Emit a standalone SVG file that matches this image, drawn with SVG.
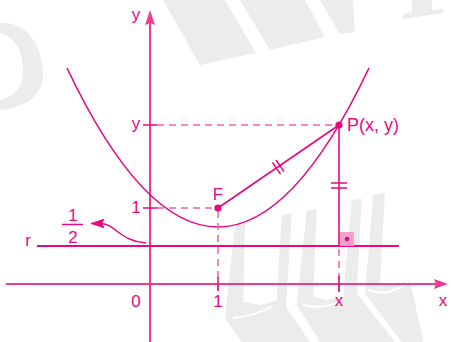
<svg xmlns="http://www.w3.org/2000/svg" width="451" height="342" viewBox="0 0 451 342">
<style>
.wm{fill:#ececec;stroke:none}
.wmw{fill:none;stroke:#ffffff;stroke-width:2}
.axis{stroke:#ee3b95;stroke-width:2;fill:none}
.ln{stroke:#e6097f;stroke-width:1.6;fill:none}
.dash{stroke:#f061aa;stroke-width:1.5;fill:none;stroke-dasharray:7 5}
.tk{stroke:#e6097f;stroke-width:1.5}
.fill{fill:#e6097f}
text{font-family:"Liberation Sans",Arial,sans-serif;font-size:17px;fill:#e6097f}
.mid{text-anchor:middle}
</style>
<defs>
<marker id="ah" viewBox="0 0 14 10" refX="13.5" refY="5" markerWidth="14" markerHeight="10" markerUnits="userSpaceOnUse" orient="auto">
<path d="M0,0 L14,5 L0,10 L2,5 Z" fill="#e6097f"/>
</marker>
</defs>
<g id="watermark">
<path class="wm" d="M0,23 C25,22 40,40 43,70 C45,95 25,108 0,110 L0,100 C16,96 24,85 23,68 C22,50 14,36 0,33 Z"/>
<polygon class="wm" points="163,0 225,0 256,53 200,65"/>
<polygon class="wm" points="240,0 305,0 325,37 270,50"/>
<polygon class="wm" points="320,0 353,0 355,32 340,34"/>
<polygon class="wm" points="412,0 432,0 432,10 443,9 443,13 403,19 403,14 412,12"/>
<polygon class="wm" points="235,225 245,223.3 243.3,301.7 260,305 276.7,300 281.7,215 291.7,213.3 286,306.7 310,342 241.7,342 225,318.3"/>
<polygon class="wm" points="306.7,210.7 316.7,209.3 313.3,296.7 326.7,300 343.3,296.7 351.7,200 361.7,198.7 356.7,293.3 395,342 320,342 296.7,305"/>
<polygon class="wm" points="373.3,194.7 385,192.7 380,283.3 396.7,285 410,280 423.3,342 401.7,342 365,293.3"/>
<path class="wmw" d="M233,318 Q255,316 273,306"/>
<path class="wmw" d="M303,305 Q325,310 343,300"/>
<path class="wmw" d="M368,290 Q392,298 410,280"/>
</g>
<g id="connectors">
<line class="axis" x1="6" y1="284" x2="436" y2="284"/>
<path d="M448,284 L434,279 L436,284 L434,289 Z" fill="#ee3b95"/>
<line class="axis" x1="150" y1="342" x2="150" y2="22"/>
<path d="M150,10 L155,25 L150,23 L145,25 Z" fill="#ee3b95"/>
<line class="ln" x1="37" y1="246" x2="399" y2="246" style="stroke-width:1.8"/>
<path class="ln" d="M67,68 Q218,386 369,68"/>
<line class="dash" x1="157" y1="125" x2="336" y2="125"/>
<line class="dash" x1="157" y1="208" x2="216" y2="208"/>
<line class="dash" x1="218" y1="211" x2="218" y2="292"/>
<line class="dash" x1="339" y1="249" x2="339" y2="293"/>
<line class="tk" x1="143" y1="125" x2="157" y2="125"/>
<line class="tk" x1="143" y1="208" x2="157" y2="208"/>
<line class="tk" x1="218" y1="277" x2="218" y2="291"/>
<line class="tk" x1="339" y1="276" x2="339" y2="292"/>
<line class="ln" x1="218" y1="208" x2="339" y2="125"/>
<line class="ln" x1="339" y1="125" x2="339" y2="246"/>
<line class="tk" x1="272.5" y1="162.5" x2="280.5" y2="174.1"/>
<line class="tk" x1="276" y1="160" x2="284" y2="171.6"/>
<line class="tk" x1="331" y1="183" x2="347" y2="183"/>
<line class="tk" x1="331" y1="188" x2="347" y2="188"/>
<rect x="340" y="232" width="14" height="14" fill="#f6a1cb"/>
<circle cx="347" cy="239" r="2.3" class="fill"/>
<path class="ln" d="M146,243 C132,242 125,237 118,232 C112,227 108,224 101,223.5 L91,223.5" style="stroke-width:1.4" marker-end="url(#ah)"/>
</g>
<g id="F">
<circle cx="218" cy="208" r="3.6" class="fill"/>
<text x="218" y="200" class="mid">F</text>
</g>
<g id="P">
<circle cx="339" cy="125" r="3.6" class="fill"/>
<text x="347" y="131" style="font-size:18px">P(x, y)</text>
</g>
<g id="labels">
<text x="136" y="20" class="mid">y</text>
<text x="136" y="129" class="mid">y</text>
<text x="136" y="213" class="mid">1</text>
<text x="136" y="307" class="mid">0</text>
<text x="218" y="307" class="mid">1</text>
<text x="339" y="306" class="mid">x</text>
<text x="443" y="306" class="mid">x</text>
<text x="28" y="246" class="mid">r</text>
<text x="73" y="221" class="mid">1</text>
<line x1="62" y1="224.5" x2="83" y2="224.5" class="tk"/>
<text x="73" y="243" class="mid">2</text>
</g>
</svg>
